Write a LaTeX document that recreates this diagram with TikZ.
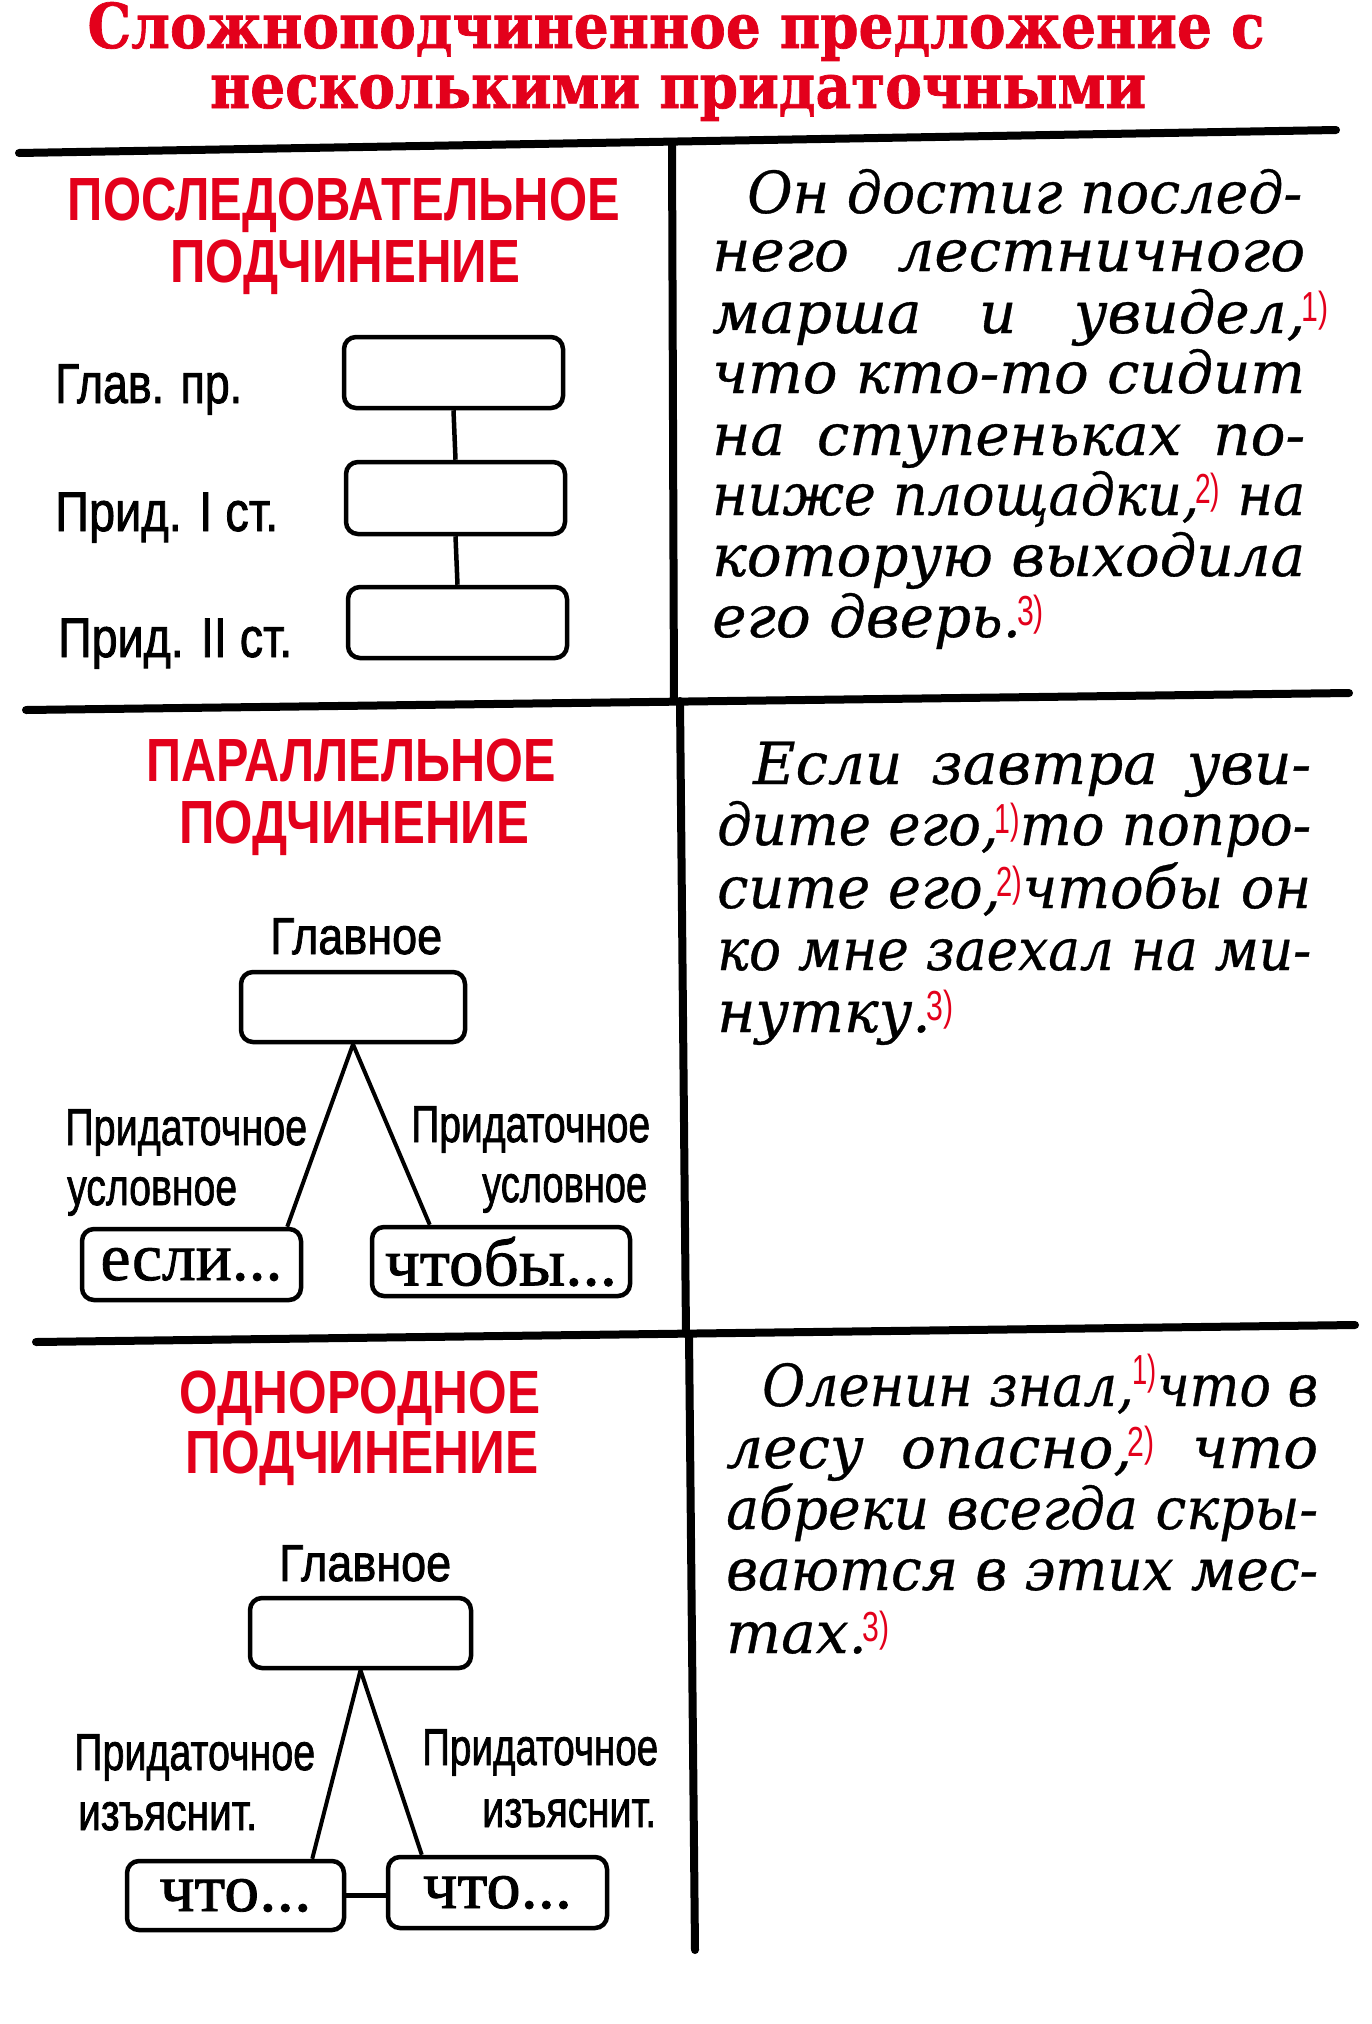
\documentclass[tikz,border=0pt]{standalone}
\usepackage{fontspec}
\usepackage{graphicx}
\setmainfont{DejaVu Serif}
\newfontfamily\hsans{Liberation Sans}
\newfontfamily\hsansm{Liberation Sans}[FakeBold=1.6]
\newfontfamily\bserif{Liberation Serif}[FakeBold=1.2]
\newfontfamily\dvserif{DejaVu Serif}[FakeBold=1.2]
\newfontfamily\dvit{DejaVu Serif Italic}[FakeBold=0.6]
\definecolor{ared}{HTML}{E3001B}
\newcommand\fitw[2]{\resizebox{#1}{\height}{#2}}
\newlength\jlen
\newcommand\jline[2]{\settowidth\jlen{#2}\ifdim\jlen>#1\relax\resizebox{#1}{\height}{#2}\else\makebox[#1][s]{#2}\fi}
\newcommand\fn[1]{\raisebox{12pt}{\hsans\upshape\mdseries\fontsize{42}{42}\selectfont\color{ared}\scalebox{0.72}[1]{#1}}}
\tikzset{
  rulestyle/.style={line width=8pt, line cap=round},
  title/.style={inner sep=0pt, anchor=base, text=ared, font=\dvserif\bfseries\fontsize{62}{64}\selectfont},
  head/.style={inner sep=0pt, anchor=base, text=ared, font=\hsans\bfseries\fontsize{61}{62}\selectfont},
  lbla/.style={inner sep=0pt, anchor=base west, font=\hsansm\fontsize{56}{58}\selectfont},
  lbl/.style={inner sep=0pt, anchor=base west, font=\hsansm\fontsize{52}{54}\selectfont},
  para/.style={inner sep=0pt, anchor=base west, font=\dvit\fontsize{58}{60}\selectfont},
  rbox/.style={draw, line width=4.5pt, rounded corners=12pt, inner sep=0pt},
  wbox/.style={rbox, font=\bserif\fontsize{68}{70}\selectfont},
  conn/.style={line width=4.5pt},
  tri/.style={line width=4pt},
}
\begin{document}
\begin{tikzpicture}[x=1pt,y=-1pt]
\fill[white] (0,0) rectangle (1372,2024);
\useasboundingbox (0,0) rectangle (1372,2024);

% title
\node[title] (t1) at (676,48) {\fitw{1177pt}{Сложноподчиненное предложение с}};
\node[title] (t2) at (678,108) {\fitw{936pt}{несколькими придаточными}};

% rules
\draw[rulestyle] (19,153) -- (1336,130);
\draw[rulestyle] (26,710) -- (1349,693);
\draw[rulestyle] (36,1342) -- (1355,1325);
\draw[rulestyle] (672,143) -- (674,701);
\draw[rulestyle] (680,701) -- (686,1334);
\draw[rulestyle] (689,1334) -- (695,1950);

% ---------- section 1 ----------
\node[head] (h1a) at (344,220) {\fitw{552pt}{ПОСЛЕДОВАТЕЛЬНОЕ}};
\node[head] (h1b) at (345,282) {\fitw{350pt}{ПОДЧИНЕНИЕ}};
\node[lbla] (l1a) at (55,403) {\fitw{187pt}{Глав. пр.}};
\node[lbla] (l1b) at (55,531) {\fitw{223pt}{Прид. I ст.}};
\node[lbla] (l1c) at (58,657) {\fitw{234pt}{Прид. II ст.}};
\node[rbox, minimum width=219pt, minimum height=71pt] (b1) at (453.5,372.5) {};
\node[rbox, minimum width=219pt, minimum height=72pt] (b2) at (455.5,498) {};
\node[rbox, minimum width=219pt, minimum height=71pt] (b3) at (457.5,622.5) {};
\draw[conn] (b1.south) -- (b2.north);
\draw[conn] (b2.south) -- (b3.north);

\node[para] (p1a) at (747,213) {\jline{555pt}{Он достиг послед-}};
\node[para] (p1b) at (712,271) {\jline{593pt}{него лестничного}};
\node[para] (p1c) at (712,333) {\jline{593pt}{марша и увидел,}\rlap{\kern-4pt\fn{1)}}};
\node[para] (p1d) at (712,393) {\jline{593pt}{что кто-то сидит}};
\node[para] (p1e) at (712,455) {\jline{593pt}{на ступеньках по-}};
\node[para] (p1f) at (712,515) {\jline{593pt}{ниже площадки,\kern-4pt\fn{2)} на}};
\node[para] (p1g) at (712,576) {\jline{593pt}{которую выходила}};
\node[para] (p1h) at (712,637) {его дверь.\kern-4pt\fn{3)}};

% ---------- section 2 ----------
\node[head] (h2a) at (351,781) {\fitw{409pt}{ПАРАЛЛЕЛЬНОЕ}};
\node[head] (h2b) at (354,843) {\fitw{350pt}{ПОДЧИНЕНИЕ}};
\node[lbl] (g2l) at (270,954) {\fitw{172pt}{Главное}};
\node[rbox, minimum width=224pt, minimum height=70pt] (g2) at (353,1007) {};
\node[lbl] (s2a) at (65,1145) {\fitw{242pt}{Придаточное}};
\node[lbl] (s2b) at (67,1205) {\fitw{170pt}{условное}};
\node[lbl] (s2c) at (411,1142) {\fitw{239pt}{Придаточное}};
\node[lbl] (s2d) at (482,1202) {\fitw{165pt}{условное}};
\node[wbox, minimum width=219pt, minimum height=71pt] (e2) at (191.5,1264.5) {\fitw{182pt}{если...}};
\node[wbox, minimum width=258pt, minimum height=69pt] (c2) at (501,1261.5) {\fitw{232pt}{чтобы...}};
\draw[tri] (g2.south) -- ([xshift=-16pt]e2.north east);
\draw[tri] (g2.south) -- ([xshift=60pt]c2.north west);

\node[para] (p2a) at (753,784) {\jline{558pt}{Если завтра уви-}};
\node[para] (p2b) at (717,845) {\jline{594pt}{дите его,\kern-4pt\fn{1)}то попро-}};
\node[para] (p2c) at (717,908) {\jline{594pt}{сите его,\kern-4pt\fn{2)}чтобы он}};
\node[para] (p2d) at (717,970) {\jline{594pt}{ко мне заехал на ми-}};
\node[para] (p2e) at (717,1032) {нутку.\kern-4pt\fn{3)}};

% ---------- section 3 ----------
\node[head] (h3a) at (360,1413) {\fitw{361pt}{ОДНОРОДНОЕ}};
\node[head] (h3b) at (362,1473) {\fitw{353pt}{ПОДЧИНЕНИЕ}};
\node[lbl] (g3l) at (279,1581) {\fitw{172pt}{Главное}};
\node[rbox, minimum width=221pt, minimum height=70pt] (g3) at (360.5,1633) {};
\node[lbl] (s3a) at (74,1770) {\fitw{241pt}{Придаточное}};
\node[lbl] (s3b) at (78,1830) {\fitw{179pt}{изъяснит.}};
\node[lbl] (s3c) at (422,1765) {\fitw{236pt}{Придаточное}};
\node[lbl] (s3d) at (482,1827) {\fitw{174pt}{изъяснит.}};
\node[wbox, minimum width=217pt, minimum height=69pt] (w1) at (235.5,1895.5) {\fitw{152pt}{что...}};
\node[wbox, minimum width=219pt, minimum height=71pt] (w2) at (497.5,1892.5) {\fitw{149pt}{что...}};
\draw[tri] (g3.south) -- ([xshift=-34pt]w1.north east);
\draw[tri] (g3.south) -- ([xshift=36pt]w2.north west);
\draw[conn] (w1.east) -- (w1.east -| w2.west);

\node[para] (p3a) at (762,1406) {\jline{556pt}{Оленин знал,\kern-1pt\raisebox{10pt}{\fn{1)}}что в}};
\node[para] (p3b) at (726,1468) {\jline{592pt}{лесу опасно,\kern-4pt\fn{2)} что}};
\node[para] (p3c) at (726,1529) {\jline{592pt}{абреки всегда скры-}};
\node[para] (p3d) at (726,1590) {\jline{592pt}{ваются в этих мес-}};
\node[para] (p3e) at (726,1653) {тах.\kern-4pt\fn{3)}};
\end{tikzpicture}
\end{document}
